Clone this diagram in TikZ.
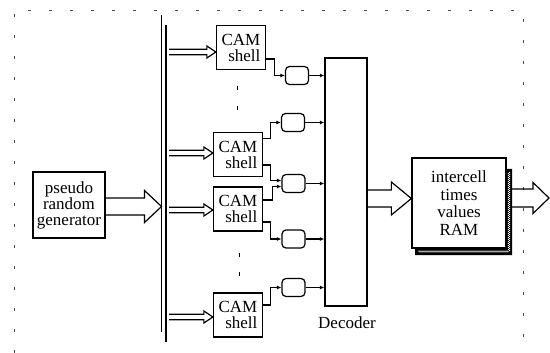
\documentclass[tikz,border=0pt]{standalone}
\usepackage{fontspec}
\setmainfont{Liberation Serif}
\usetikzlibrary{calc,arrows.meta,decorations.pathmorphing}
% hollow arrow: [opts]{start}{end}{half shaft}{head length}{half head}
\newcommand{\hollowarrow}[6][]{%
  \draw[hollow,#1] let \p1=(#2),\p2=(#3) in
    (\x1,\y1+#4) -- (\x2-#5,\y1+#4) -- (\x2-#5,\y1+#6) -- (\x2,\y1)
    -- (\x2-#5,\y1-#6) -- (\x2-#5,\y1-#4) -- (\x1,\y1-#4);}
\begin{document}
\begin{tikzpicture}[x=1pt,y=-1pt,
  box/.style={draw,line width=1.3pt,inner sep=0pt,font=\fontsize{17}{16}\selectfont},
  cam/.style={box,minimum width=49pt,minimum height=44pt,align=right},
  reg/.style={draw,line width=1.2pt,rounded corners=4pt,minimum width=23pt,minimum height=18pt,inner sep=0pt},
  wire/.style={line width=1.2pt},
  tip/.style={wire,-{Latex[length=4.5pt,width=4pt]}},
  hollow/.style={line width=1.2pt,line join=miter},
  frame/.style={line width=0.8pt,dash pattern=on 3pt off 18pt,black!70},
  lbl/.style={font=\fontsize{17}{16}\selectfont,inner sep=0pt},
  busline/.style={line width=1.2pt}
]
\useasboundingbox (0,0) rectangle (550,353);

% dashed frame
\draw[frame] (14,353) -- (14,10) -- (523,10) -- (523,353);

% bus
\coordinate (busL1) at (161.5,15); \coordinate (busL2) at (161.5,332);
\coordinate (busR1) at (166,25); \coordinate (busR2) at (166,342);
\draw[busline] (busL1) -- (busL2);
\draw[busline] (busR1) -- (busR2);

% boxes
\node[box,minimum width=72pt,minimum height=66pt,align=center] (prg) at (69,205) {pseudo\\random\\generator};
\node[cam] (cam1) at (241,47.5) {CAM\\shell};
\node[cam] (cam2) at (238,154.5) {CAM\\shell};
\node[cam] (cam3) at (238,209) {CAM\\shell};
\node[cam] (cam4) at (238,315) {CAM\\shell};

\node[reg] (r1) at (297,75.5) {};
\node[reg] (r2) at (293,122.5) {};
\node[reg] (r3) at (293.5,183.5) {};
\node[reg] (r4) at (293.5,239) {};
\node[reg] (r5) at (293.5,287.5) {};

\node[box,minimum width=42pt,minimum height=248pt] (dec) at (346,182) {};
\node[lbl] (declbl) at (347,323) {Decoder};

% RAM with shadow
\fill (506,169) -- (512,169) -- (512,255) -- (415,255) -- (415,248) -- (506,248) -- cycle;
\draw[white,line width=0.35pt,decorate,decoration={zigzag,amplitude=1pt,segment length=2pt}]
  (509,172) -- (509,251.5) -- (418,251.5);
\node[box,minimum width=94pt,minimum height=90pt,align=center,fill=white,
  font=\fontsize{17}{17.5}\selectfont] (ram) at (459,203) {intercell\\times\\values\\RAM};

% ellipsis marks
\draw[line width=0.8pt] (237,86) -- (237,90);
\draw[line width=0.8pt] (237,106) -- (237,110);
\draw[line width=0.8pt] (239,253) -- (239,257);
\draw[line width=0.8pt] (239,272) -- (239,276);

% bus to CAM arrows
\coordinate (s1) at (169,52);
\coordinate (s2) at (169,153);
\coordinate (s3) at (169,210);
\coordinate (s4) at (169,317);
\hollowarrow{s1}{cam1.west |- s1}{2.8pt}{9pt}{6pt}
\hollowarrow{s2}{cam2.west |- s2}{2.8pt}{9pt}{6pt}
\hollowarrow{s3}{cam3.west |- s3}{2.8pt}{9pt}{6pt}
\hollowarrow{s4}{cam4.west |- s4}{2.8pt}{9pt}{6pt}

% big arrows
\coordinate (p0) at ($(prg.east)+(0,1.5)$);
\hollowarrow{p0}{busL1 |- p0}{8.5pt}{17pt}{16pt}
\coordinate (d0) at ($(dec.east)+(0,16.5)$);
\hollowarrow{d0}{ram.west |- d0}{8.5pt}{20pt}{16.5pt}
\coordinate (o0) at (512,198);
\coordinate (o1) at (549,198);
\hollowarrow{o0}{o1}{9pt}{16pt}{15.5pt}

% CAM to registers
\draw[tip] ($(cam1.east)+(0,11.5)$) -- ++(8,0) |- (r1.west);
\draw[tip] ($(cam2.east)+(0,-16)$) -- ++(7,0) |- (r2.west);
\draw[tip] ($(cam2.east)+(0,10.5)$) -- ++(7,0) |- ($(r3.west)+(0,-3)$);
\draw[tip] ($(cam3.east)+(0,-9)$) -- ++(9,0) |- ($(r3.west)+(0,3)$);
\draw[tip] ($(cam3.east)+(0,13)$) -- ++(7,0) |- (r4.west);
\draw[tip] ($(cam4.east)+(0,-10)$) -- ++(7,0) |- (r5.west);

% registers to decoder
\foreach \r in {r1,r2,r3,r4,r5}
  \draw[tip] (\r.east) -- (\r.east -| dec.west);
\end{tikzpicture}
\end{document}
